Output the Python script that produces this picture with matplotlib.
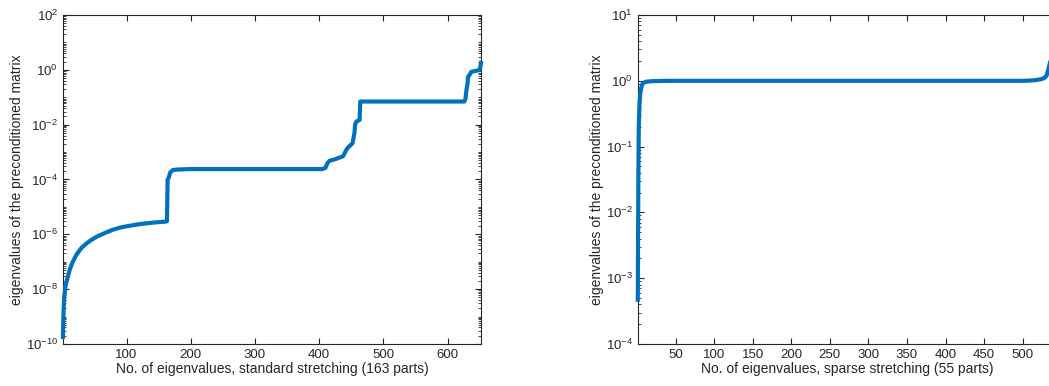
import matplotlib
matplotlib.use('Agg')
import matplotlib.pyplot as plt
from matplotlib.ticker import LogLocator, FixedLocator, NullFormatter

plt.rcParams['font.family'] = ['Liberation Sans', 'DejaVu Sans']

# eigenvalues, standard stretching (163 parts)
std_idx = [1, 1.5, 2, 3, 5, 8.6, 12, 16.4, 22, 29.4, 37, 45, 55, 65.7, 78, 91.7, 105, 117.6, 130, 143.6,
           153, 160.8, 163, 164, 166, 168, 172, 178,
           200, 300, 405, 410, 413, 416, 425, 437, 444, 452, 455, 456, 458, 463, 464,
           500, 600, 626, 628, 629, 631, 632, 635, 637, 642, 647, 650, 651, 652]
std_val = [1.8e-10, 6e-10, 1.5e-9, 5e-9, 1.3e-8, 2.8e-8, 5.5e-8, 1e-7, 1.8e-7, 3.1e-7, 4.5e-7, 6.2e-7, 8.5e-7,
           1.1e-6, 1.45e-6, 1.8e-6, 2.05e-6, 2.3e-6, 2.5e-6, 2.7e-6,
           2.8e-6, 2.9e-6, 3e-6, 1e-4, 1.2e-4, 1.8e-4, 2.2e-4, 2.3e-4,
           2.4e-4, 2.4e-4, 2.4e-4, 2.7e-4, 4e-4, 4.8e-4, 5.5e-4, 7e-4, 1.4e-3, 2.1e-3, 5e-3, 1e-2, 1.3e-2, 1.5e-2, 0.07,
           0.07, 0.07, 0.07, 0.09, 0.16, 0.3, 0.56, 0.7, 0.85, 0.9, 0.95, 1.0, 1.3, 1.8]

# eigenvalues, sparse stretching (55 parts)
sp_idx = [1, 1.3, 1.7, 2.3, 3.2, 4.3, 5.5, 7, 9, 12, 20, 40, 100, 300, 500, 510, 518, 524, 528, 531, 533, 536, 543]
sp_val = [4.7e-4, 3e-3, 0.03, 0.2, 0.45, 0.65, 0.78, 0.9, 0.94, 0.97, 0.99, 1.0, 1.0, 1.0, 1.0, 1.01, 1.03, 1.06, 1.1, 1.2, 1.45, 2.0, 3.0]

line_color = '#0072BD'
axis_color = '#262626'

fig = plt.figure(figsize=(10.49, 3.86), dpi=100)
ax1 = fig.add_axes([0.060, 0.109, 0.3985, 0.852])
ax2 = fig.add_axes([0.608, 0.109, 0.3985, 0.852])


def style(ax):
    ax.tick_params(which='both', direction='in', top=True, right=True, colors=axis_color,
                   labelsize=9.5, labelcolor=axis_color)
    ax.tick_params(which='major', length=4, width=0.8)
    ax.tick_params(which='minor', length=2, width=0.6)
    for s in ax.spines.values():
        s.set_color(axis_color)
        s.set_linewidth(0.8)


ax1.plot(std_idx, std_val, color=line_color, lw=3, solid_joinstyle='round', clip_on=False, zorder=3)
ax1.set_yscale('log')
ax1.set_xlim(1, 652)
ax1.set_ylim(1e-10, 1e2)
ax1.xaxis.set_major_locator(FixedLocator([100, 200, 300, 400, 500, 600]))
ax1.yaxis.set_major_locator(FixedLocator([10.0**k for k in range(-10, 3, 2)]))
ax1.yaxis.set_minor_locator(LogLocator(base=10, subs=range(1, 10), numticks=100))
ax1.yaxis.set_minor_formatter(NullFormatter())
ax1.set_xlabel('No. of eigenvalues, standard stretching (163 parts)', fontsize=10, color=axis_color, labelpad=1)
ax1.set_ylabel('eigenvalues of the preconditioned matrix', fontsize=10, color=axis_color, labelpad=1)
style(ax1)

ax2.plot(sp_idx, sp_val, color=line_color, lw=3, solid_joinstyle='round', clip_on=False, zorder=3)
ax2.set_yscale('log')
ax2.set_xlim(1, 543)
ax2.set_ylim(1e-4, 1e1)
ax2.xaxis.set_major_locator(FixedLocator(list(range(50, 551, 50))))
ax2.yaxis.set_major_locator(FixedLocator([10.0**k for k in range(-4, 2)]))
ax2.yaxis.set_minor_locator(LogLocator(base=10, subs=range(2, 10), numticks=100))
ax2.yaxis.set_minor_formatter(NullFormatter())
ax2.set_xlabel('No. of eigenvalues, sparse stretching (55 parts)', fontsize=10, color=axis_color, labelpad=1)
ax2.set_ylabel('eigenvalues of the preconditioned matrix', fontsize=10, color=axis_color, labelpad=1)
style(ax2)

fig.savefig('out.png', dpi=100)
